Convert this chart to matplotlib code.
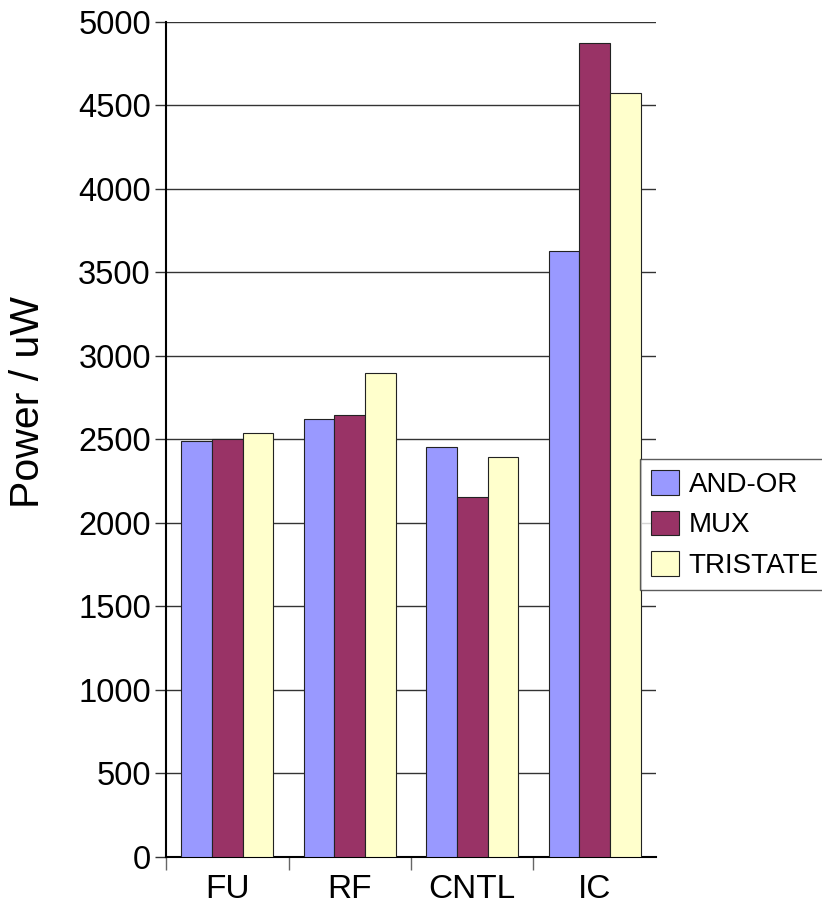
import matplotlib.pyplot as plt
import numpy as np

plt.rcParams['font.family'] = ['Liberation Sans', 'DejaVu Sans']

# Power per block for each interconnect style
categories = ['FU', 'RF', 'CNTL', 'IC']
and_or = [2490, 2620, 2455, 3630]
mux = [2500, 2645, 2155, 4875]
tristate = [2540, 2900, 2395, 4575]

series = [('AND-OR', and_or, '#9999FF'),
          ('MUX', mux, '#993366'),
          ('TRISTATE', tristate, '#FFFFCC')]

fig = plt.figure(figsize=(8.22, 9.08), dpi=100)
ax = fig.add_axes([0.202, 0.0562, 0.596, 0.9196])

x = np.arange(len(categories))
w = 0.25
for i, (name, vals, col) in enumerate(series):
    ax.bar(x + (i - 1) * w, vals, w, color=col, edgecolor='#222222',
           linewidth=0.8, label=name, zorder=3)

ax.set_xlim(-0.5, len(categories) - 0.5)
ax.set_ylim(0, 5000)
ax.set_yticks(np.arange(0, 5001, 500))
ax.yaxis.grid(True, color='#333333', linewidth=1.0, zorder=0)
ax.set_axisbelow(True)

# category ticks sit between the groups (none at the far right)
ax.set_xticks(np.arange(-0.5, len(categories) - 1, 1.0))
ax.set_xticklabels([])
ax.set_xticks(x, minor=True)
ax.set_xticklabels(categories, minor=True, fontsize=24)
ax.tick_params(axis='x', which='minor', length=0, pad=12)
ax.tick_params(axis='x', which='major', length=9, width=1, color='#666666')
ax.tick_params(axis='y', length=8, width=1, color='#333333', labelsize=23.5, pad=3)

for s in ['top', 'right']:
    ax.spines[s].set_visible(False)
ax.spines['left'].set_linewidth(1.5)
ax.spines['bottom'].set_linewidth(1.5)

ax.set_ylabel('Power / uW', fontsize=29.5)
ax.yaxis.set_label_coords(-0.243, 0.545)

leg = fig.legend(loc='upper left', bbox_to_anchor=(640 / 822, 1 - 459 / 908),
                 fontsize=20, frameon=True, fancybox=False, edgecolor='#333333',
                 handlelength=1.0, handleheight=1.0, handletextpad=0.35,
                 labelspacing=0.45, borderpad=0.4, borderaxespad=0)
leg.get_frame().set_linewidth(1.0)

plt.savefig('out.png', dpi=100)
